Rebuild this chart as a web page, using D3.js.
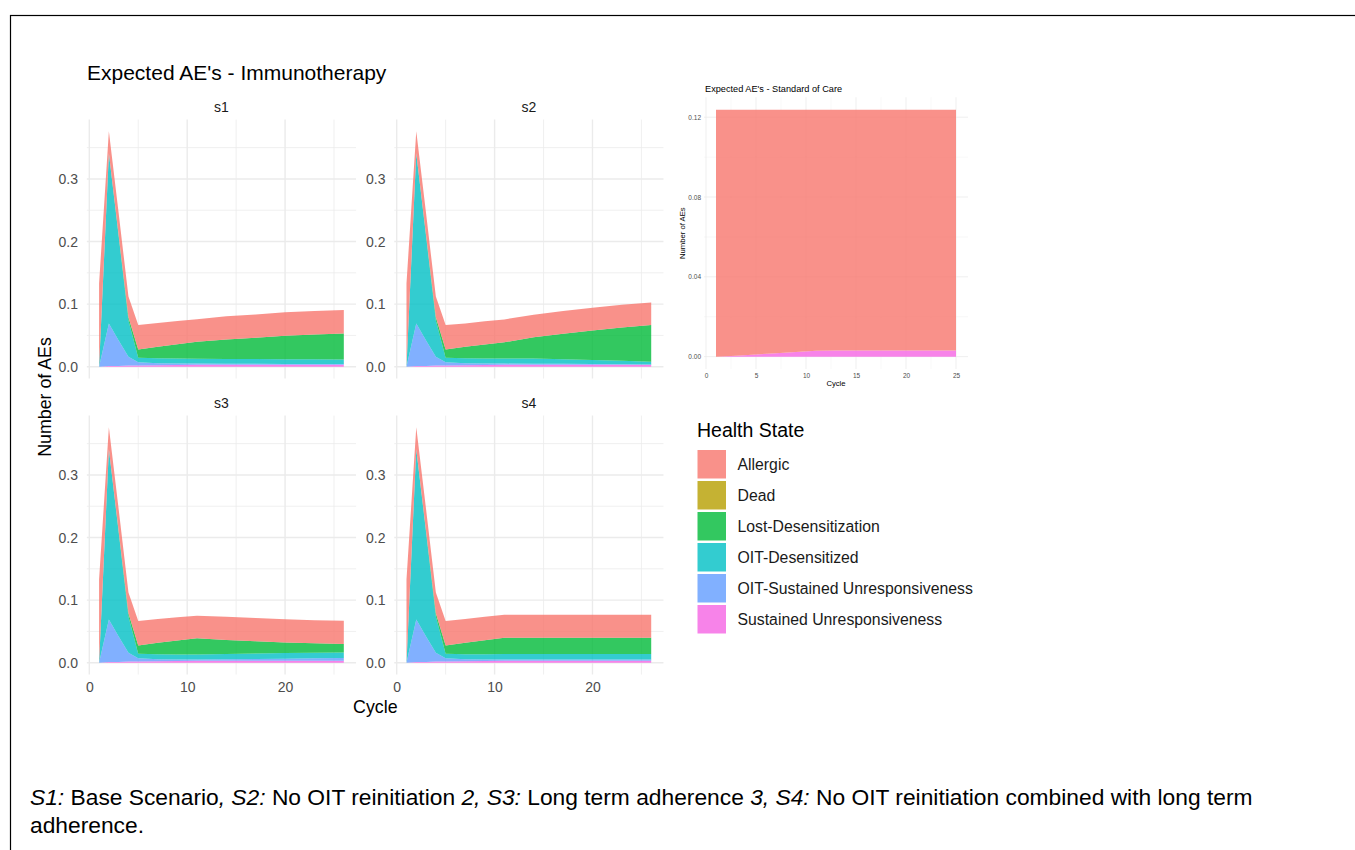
<!DOCTYPE html>
<html>
<head>
<meta charset="utf-8">
<script src="https://cdn.jsdelivr.net/npm/d3@7"></script>
<style>
  body { margin: 0; background: #fff; }
  svg { display: block; }
  text { font-family: "Liberation Sans", Arial, Helvetica, sans-serif; }
</style>
</head>
<body>
<svg id="fig" width="1355" height="850"></svg>
<script>
// ---- Health states (legend order) and their hue palette ----
const states = ["Allergic", "Dead", "Lost-Desensitization", "OIT-Desensitized",
                "OIT-Sustained Unresponsiveness", "Sustained Unresponsiveness"];
const stateColors = ["#F8766D", "#B79F00", "#00BA38", "#00BFC4", "#619CFF", "#F564E3"];

// ---- Immunotherapy scenarios: expected AEs per cycle, by health state ----
const scenarioNames = ["s1", "s2", "s3", "s4"];
const cycles = [1, 2, 3, 4, 5, 7, 9, 11, 14, 17, 20, 23, 26];

const deadAEs = [0, 0, 0, 0, 0, 0, 0, 0, 0, 0, 0, 0, 0];

const s1Allergic = [0.133, 0.035, 0.035, 0.033, 0.0389, 0.038, 0.037, 0.036, 0.037, 0.037, 0.0375, 0.0375, 0.0375];
const s1Lost     = [0, 0, 0.002, 0.005, 0.0133, 0.0183, 0.023, 0.027, 0.031, 0.034, 0.0375, 0.0397, 0.0415];
const s1OitDes   = [0, 0.272, 0.166, 0.058, 0.0074, 0.0082, 0.0078, 0.0078, 0.0077, 0.0077, 0.0075, 0.0074, 0.0072];
const s1OitSU    = [0, 0.068, 0.041, 0.014, 0.005, 0.003, 0.0025, 0.002, 0.0018, 0.0016, 0.0015, 0.0014, 0.0013];
const s1SU       = [0, 0.001, 0.001, 0.002, 0.002, 0.0025, 0.0027, 0.003, 0.003, 0.003, 0.003, 0.003, 0.003];

const s2Allergic = [0.133, 0.035, 0.035, 0.033, 0.0389, 0.037, 0.037, 0.0366, 0.036, 0.0365, 0.0363, 0.0365, 0.0362];
const s2Lost     = [0, 0, 0.002, 0.005, 0.0133, 0.0185, 0.0222, 0.0257, 0.0338, 0.0405, 0.0472, 0.053, 0.0586];
const s2OitDes   = [0, 0.272, 0.166, 0.058, 0.0074, 0.008, 0.0081, 0.0083, 0.0084, 0.0074, 0.0065, 0.0055, 0.0043];
const s2OitSU    = [0, 0.068, 0.041, 0.014, 0.005, 0.003, 0.0025, 0.002, 0.0018, 0.0016, 0.0013, 0.001, 0.0007];
const s2SU       = [0, 0.001, 0.001, 0.002, 0.002, 0.0025, 0.0027, 0.003, 0.003, 0.003, 0.003, 0.003, 0.003];

const s3Allergic = [0.133, 0.035, 0.035, 0.033, 0.0389, 0.038, 0.037, 0.036, 0.037, 0.037, 0.037, 0.037, 0.0372];
const s3Lost     = [0, 0, 0.002, 0.005, 0.0133, 0.0183, 0.0222, 0.0257, 0.0225, 0.0197, 0.017, 0.015, 0.0133];
const s3OitDes   = [0, 0.272, 0.166, 0.058, 0.0074, 0.0082, 0.0081, 0.0083, 0.0085, 0.0088, 0.009, 0.009, 0.009];
const s3OitSU    = [0, 0.068, 0.041, 0.014, 0.005, 0.003, 0.0025, 0.002, 0.0025, 0.003, 0.0035, 0.004, 0.0045];
const s3SU       = [0, 0.001, 0.001, 0.002, 0.002, 0.0025, 0.0027, 0.003, 0.003, 0.003, 0.003, 0.003, 0.003];

const s4Allergic = [0.133, 0.035, 0.035, 0.033, 0.0389, 0.038, 0.0375, 0.0366, 0.0366, 0.0366, 0.0366, 0.0366, 0.0366];
const s4Lost     = [0, 0, 0.002, 0.005, 0.0133, 0.0183, 0.0225, 0.026, 0.026, 0.026, 0.026, 0.026, 0.026];
const s4OitDes   = [0, 0.272, 0.166, 0.058, 0.0074, 0.0082, 0.0083, 0.009, 0.009, 0.009, 0.009, 0.009, 0.009];
const s4OitSU    = [0, 0.068, 0.041, 0.014, 0.005, 0.003, 0.0025, 0.002, 0.002, 0.002, 0.002, 0.002, 0.002];
const s4SU       = [0, 0.001, 0.001, 0.002, 0.002, 0.0025, 0.0027, 0.003, 0.003, 0.003, 0.003, 0.003, 0.003];

// ---- Standard of care: expected AEs per cycle ----
const socCycles   = [1, 3, 5, 7, 9, 11, 13, 15, 17, 19, 21, 23, 25];
const socAllergic = [0.1238, 0.1233, 0.1227, 0.1221, 0.1215, 0.1209, 0.1207, 0.1207, 0.1207, 0.1207, 0.1207, 0.1207, 0.1207];
const socSU       = [0, 0.0005, 0.0011, 0.0017, 0.0023, 0.0029, 0.0031, 0.0031, 0.0031, 0.0031, 0.0031, 0.0031, 0.0031];

// ---- Axis tick values ----
const mainYTicks = [0, 0.1, 0.2, 0.3];
const mainYMinor = [0.05, 0.15, 0.25, 0.35];
const mainXTicks = [0, 10, 20];
const mainXMinor = [5, 15, 25];
const socYTicks = [0, 0.04, 0.08, 0.12];
const socYMinor = [0.02, 0.06, 0.10];
const socXTicks = [0, 5, 10, 15, 20, 25];
const socXMinor = [2.5, 7.5, 12.5, 17.5, 22.5];

const captionLine1 = [
  ["S1:", true], [" Base Scenario", false], [", S2:", true], [" No OIT reinitiation ", false],
  ["2, S3:", true], [" Long term adherence ", false], ["3, S4:", true],
  [" No OIT reinitiation combined with long term", false]
];
const captionLine2 = "adherence.";

// ---- Build per-scenario tables ----
const scenarioSeries = {
  s1: [s1Allergic, deadAEs, s1Lost, s1OitDes, s1OitSU, s1SU],
  s2: [s2Allergic, deadAEs, s2Lost, s2OitDes, s2OitSU, s2SU],
  s3: [s3Allergic, deadAEs, s3Lost, s3OitDes, s3OitSU, s3SU],
  s4: [s4Allergic, deadAEs, s4Lost, s4OitDes, s4OitSU, s4SU]
};
function buildTable(xs, seriesList) {
  return xs.map((c, i) => {
    const row = { cycle: c };
    states.forEach((s, k) => { row[s] = seriesList[k] ? seriesList[k][i] : 0; });
    return row;
  });
}
const stackKeys = states.slice().reverse();      // first level ends up on top
const stacker = d3.stack().keys(stackKeys);
const color = d3.scaleOrdinal().domain(states).range(stateColors);
const AREA_ALPHA = 0.8;

const svg = d3.select("#fig");

// outer frame
svg.append("rect").attr("x", 10.5).attr("y", 15.5).attr("width", 1400).attr("height", 900)
  .attr("fill", "none").attr("stroke", "#000").attr("stroke-width", 1.2);

// ---- Faceted immunotherapy chart ----
const stacks = {};
scenarioNames.forEach(s => { stacks[s] = stacker(buildTable(cycles, scenarioSeries[s])); });
const yMax = d3.max(scenarioNames, s => d3.max(stacks[s], layer => d3.max(layer, d => d[1])));
const xExt = d3.extent(cycles);
const xPad = (xExt[1] - xExt[0]) * 0.05;

const panelW = 269.2, panelH = 258.9;
const panelLeft = [86.85, 394.25];
const panelTop = [119.6, 415.6];

svg.append("text").attr("x", 87).attr("y", 80).attr("font-size", 21).attr("fill", "#000")
  .text("Expected AE's - Immunotherapy");

scenarioNames.forEach((name, idx) => {
  const col = idx % 2, row = Math.floor(idx / 2);
  const x0 = panelLeft[col], y0 = panelTop[row];
  const x = d3.scaleLinear().domain([xExt[0] - xPad, xExt[1] + xPad]).range([0, panelW]);
  const y = d3.scaleLinear().domain([-0.05 * yMax, 1.05 * yMax]).range([panelH, 0]);
  const g = svg.append("g").attr("transform", `translate(${x0},${y0})`);

  // grid
  const grid = g.append("g");
  mainYMinor.forEach(v => grid.append("line").attr("x1", 0).attr("x2", panelW)
    .attr("y1", y(v)).attr("y2", y(v)).attr("stroke", "#EBEBEB").attr("stroke-width", 0.8));
  mainXMinor.forEach(v => grid.append("line").attr("y1", 0).attr("y2", panelH)
    .attr("x1", x(v)).attr("x2", x(v)).attr("stroke", "#EBEBEB").attr("stroke-width", 0.8));
  mainYTicks.forEach(v => grid.append("line").attr("x1", 0).attr("x2", panelW)
    .attr("y1", y(v)).attr("y2", y(v)).attr("stroke", "#EBEBEB").attr("stroke-width", 1.4));
  mainXTicks.forEach(v => grid.append("line").attr("y1", 0).attr("y2", panelH)
    .attr("x1", x(v)).attr("x2", x(v)).attr("stroke", "#EBEBEB").attr("stroke-width", 1.4));

  // stacked areas
  const area = d3.area().x(d => x(d.data.cycle)).y0(d => y(d[0])).y1(d => y(d[1]));
  g.append("g").selectAll("path").data(stacks[name]).join("path")
    .attr("d", area).attr("fill", d => color(d.key)).attr("fill-opacity", AREA_ALPHA);

  // strip label
  g.append("text").attr("x", panelW / 2).attr("y", -8).attr("text-anchor", "middle")
    .attr("font-size", 14).attr("fill", "#1A1A1A").text(name);

  // y axis labels
  const ya = g.append("g").call(d3.axisLeft(y).tickValues(mainYTicks)
    .tickFormat(d3.format(".1f")).tickSize(0).tickPadding(8.8));
  ya.select(".domain").remove();
  ya.selectAll("text").attr("font-size", 14).attr("fill", "#4D4D4D")
    .attr("font-family", "Liberation Sans, Arial, sans-serif");

  // x axis labels on the bottom row only
  if (row === 1) {
    const xa = g.append("g").attr("transform", `translate(0,${panelH})`)
      .call(d3.axisBottom(x).tickValues(mainXTicks).tickFormat(d3.format("d")).tickSize(0).tickPadding(7.3));
    xa.select(".domain").remove();
    xa.selectAll("text").attr("font-size", 14).attr("fill", "#4D4D4D")
      .attr("font-family", "Liberation Sans, Arial, sans-serif");
  }
});

// shared axis titles
svg.append("text").attr("transform", "translate(51,397) rotate(-90)").attr("text-anchor", "middle")
  .attr("font-size", 17.8).attr("fill", "#000").text("Number of AEs");
svg.append("text").attr("x", 375.3).attr("y", 713).attr("text-anchor", "middle")
  .attr("font-size", 17.8).attr("fill", "#000").text("Cycle");

// ---- Standard of care chart ----
(function () {
  const left = 704, top = 97.3, w = 264, h = 271.7;
  const table = socCycles.map((c, i) => {
    const row = { cycle: c };
    states.forEach(s => { row[s] = 0; });
    row["Allergic"] = socAllergic[i];
    row["Sustained Unresponsiveness"] = socSU[i];
    return row;
  });
  const layers = stacker(table);
  const ymax = d3.max(layers, l => d3.max(l, d => d[1]));
  const ext = d3.extent(socCycles);
  const pad = (ext[1] - ext[0]) * 0.05;
  const x = d3.scaleLinear().domain([ext[0] - pad, ext[1] + pad]).range([0, w]);
  const y = d3.scaleLinear().domain([-0.05 * ymax, 1.05 * ymax]).range([h, 0]);
  const g = svg.append("g").attr("transform", `translate(${left},${top})`);

  socYMinor.forEach(v => g.append("line").attr("x1", 0).attr("x2", w).attr("y1", y(v)).attr("y2", y(v))
    .attr("stroke", "#F0F0F0").attr("stroke-width", 0.5));
  socXMinor.forEach(v => g.append("line").attr("y1", 0).attr("y2", h).attr("x1", x(v)).attr("x2", x(v))
    .attr("stroke", "#F0F0F0").attr("stroke-width", 0.5));
  socYTicks.forEach(v => g.append("line").attr("x1", 0).attr("x2", w).attr("y1", y(v)).attr("y2", y(v))
    .attr("stroke", "#EBEBEB").attr("stroke-width", 0.8));
  socXTicks.forEach(v => g.append("line").attr("y1", 0).attr("y2", h).attr("x1", x(v)).attr("x2", x(v))
    .attr("stroke", "#EBEBEB").attr("stroke-width", 0.8));

  const area = d3.area().x(d => x(d.data.cycle)).y0(d => y(d[0])).y1(d => y(d[1]));
  g.append("g").selectAll("path").data(layers).join("path")
    .attr("d", area).attr("fill", d => color(d.key)).attr("fill-opacity", AREA_ALPHA);

  const ya = g.append("g").call(d3.axisLeft(y).tickValues(socYTicks)
    .tickFormat(d3.format(".2f")).tickSize(0).tickPadding(3));
  ya.select(".domain").remove();
  ya.selectAll("text").attr("font-size", 6.5).attr("fill", "#4D4D4D")
    .attr("font-family", "Liberation Sans, Arial, sans-serif");
  const xa = g.append("g").attr("transform", `translate(0,${h})`)
    .call(d3.axisBottom(x).tickValues(socXTicks).tickFormat(d3.format("d")).tickSize(0).tickPadding(4.6));
  xa.select(".domain").remove();
  xa.selectAll("text").attr("font-size", 6.5).attr("fill", "#4D4D4D")
    .attr("font-family", "Liberation Sans, Arial, sans-serif");

  svg.append("text").attr("x", 705).attr("y", 91.5).attr("font-size", 9.2).attr("fill", "#000")
    .text("Expected AE's - Standard of Care");
  svg.append("text").attr("x", left + w / 2).attr("y", 386).attr("text-anchor", "middle")
    .attr("font-size", 7.7).attr("fill", "#000").text("Cycle");
  svg.append("text").attr("transform", `translate(684.5,${top + h / 2}) rotate(-90)`)
    .attr("text-anchor", "middle").attr("font-size", 7.7).attr("fill", "#000").text("Number of AEs");
})();

// ---- Legend ----
(function () {
  const lg = svg.append("g");
  lg.append("text").attr("x", 697).attr("y", 436.7).attr("font-size", 19.5).attr("fill", "#000")
    .text("Health State");
  const key = 28.5, step = 31, top = 450;
  states.forEach((s, i) => {
    const yy = top + i * step;
    lg.append("rect").attr("x", 697.5).attr("y", yy).attr("width", key).attr("height", key)
      .attr("fill", color(s)).attr("fill-opacity", AREA_ALPHA);
    lg.append("text").attr("x", 737.5).attr("y", yy + key / 2).attr("dy", "0.35em")
      .attr("font-size", 15.8).attr("fill", "#1A1A1A").text(s);
  });
})();

// ---- Caption ----
(function () {
  const cap = svg.append("g").attr("font-family", "'Open Sans', 'Noto Sans', sans-serif");
  const t1 = cap.append("text").attr("x", 30).attr("y", 805).attr("font-size", 19).attr("fill", "#000");
  captionLine1.forEach(([txt, it]) => {
    t1.append("tspan").attr("font-style", it ? "italic" : "normal").text(txt);
  });
  const target = 1223;
  const measured = t1.node().getComputedTextLength();
  const size = 19 * target / measured;
  t1.attr("font-size", size);
  cap.append("text").attr("x", 30).attr("y", 833).attr("font-size", size).attr("fill", "#000")
    .text(captionLine2);
})();
</script>
</body>
</html>
